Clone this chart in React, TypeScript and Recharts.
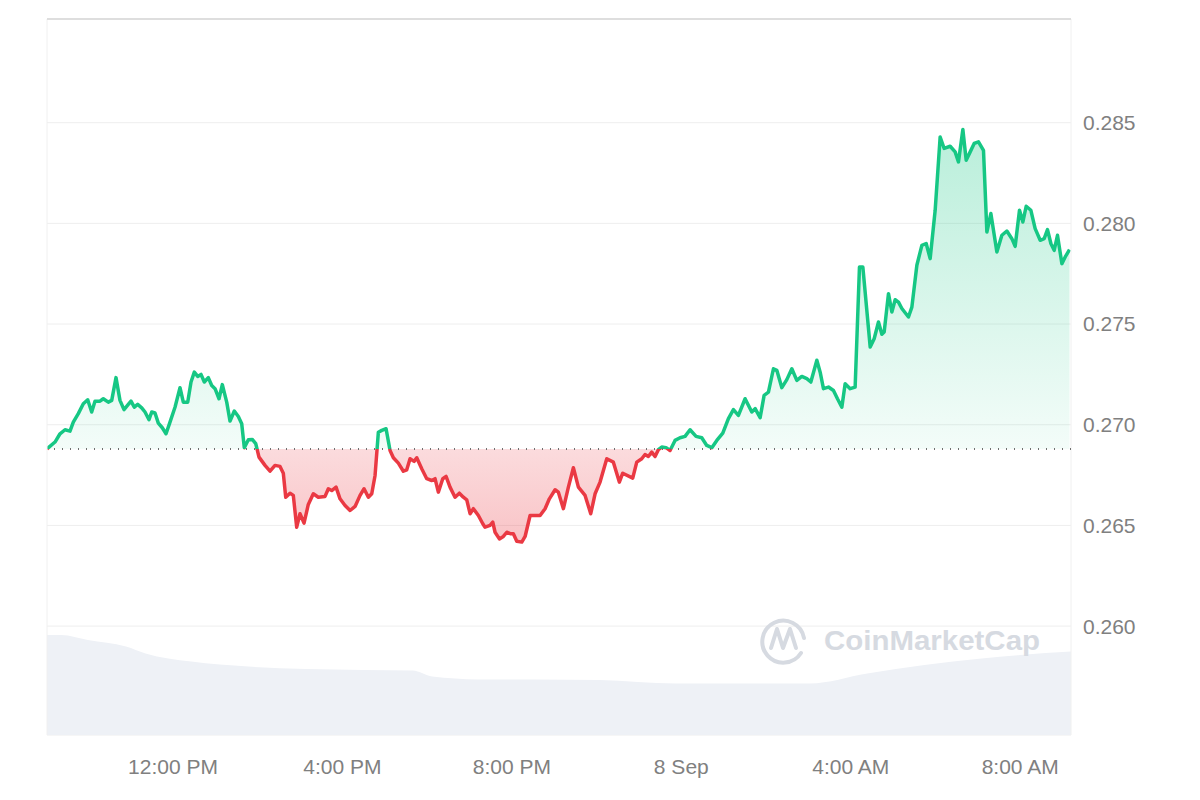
import React from 'react';
import { ComposedChart, Area, XAxis, YAxis, CartesianGrid, ReferenceLine } from 'recharts';

// [hour since 7 Sep 00:00, price USD]
const priceSeries: [number, number][] = [
  [9.025, 0.2688], [9.214, 0.26914], [9.332, 0.26955], [9.45, 0.26975], [9.568, 0.26968], [9.646, 0.27013],
  [9.764, 0.27055], [9.882, 0.27104], [9.986, 0.27124], [10.08, 0.27063], [10.158, 0.27117], [10.276, 0.27117],
  [10.354, 0.27129], [10.472, 0.27112], [10.553, 0.27121], [10.654, 0.27234], [10.748, 0.27121], [10.843, 0.27075],
  [10.944, 0.27101], [11.008, 0.27117], [11.086, 0.27087], [11.166, 0.27101], [11.261, 0.27084], [11.339, 0.27063],
  [11.433, 0.27025], [11.497, 0.27063], [11.575, 0.27058], [11.653, 0.27008], [11.747, 0.26985], [11.835, 0.26955],
  [11.929, 0.27013], [12.047, 0.27087], [12.165, 0.27184], [12.243, 0.27112], [12.347, 0.27112], [12.425, 0.27212],
  [12.503, 0.27261], [12.583, 0.2724], [12.661, 0.2725], [12.739, 0.27212], [12.833, 0.27234], [12.914, 0.27195],
  [12.992, 0.27179], [13.086, 0.27129], [13.164, 0.27199], [13.268, 0.27112], [13.346, 0.27018], [13.447, 0.27068],
  [13.542, 0.27041], [13.622, 0.27005], [13.683, 0.26886], [13.778, 0.26925], [13.872, 0.26927], [13.953, 0.26906],
  [14.03, 0.26839], [14.172, 0.26798], [14.29, 0.26769], [14.408, 0.26798], [14.526, 0.26793], [14.604, 0.26759],
  [14.661, 0.2664], [14.762, 0.2666], [14.84, 0.26649], [14.92, 0.26491], [14.998, 0.26558], [15.093, 0.26511],
  [15.194, 0.26604], [15.312, 0.26657], [15.43, 0.2664], [15.589, 0.26644], [15.667, 0.26682], [15.747, 0.26673],
  [15.849, 0.2669], [15.943, 0.26632], [16.061, 0.26599], [16.18, 0.26574], [16.298, 0.26594], [16.416, 0.26649],
  [16.51, 0.26682], [16.612, 0.2664], [16.692, 0.26657], [16.77, 0.26748], [16.848, 0.26963], [16.928, 0.26972],
  [17.03, 0.2698], [17.124, 0.26872], [17.202, 0.26836], [17.32, 0.26809], [17.438, 0.26769], [17.518, 0.26776],
  [17.596, 0.26831], [17.691, 0.26818], [17.754, 0.26836], [17.872, 0.26781], [17.99, 0.26732], [18.108, 0.26723],
  [18.186, 0.26732], [18.264, 0.26665], [18.368, 0.26732], [18.446, 0.26743], [18.54, 0.2669], [18.658, 0.2664],
  [18.76, 0.2666], [18.854, 0.2664], [18.935, 0.26627], [19.013, 0.26558], [19.091, 0.26583], [19.209, 0.26549],
  [19.313, 0.26508], [19.367, 0.26491], [19.485, 0.265], [19.549, 0.26516], [19.603, 0.26466], [19.705, 0.26433],
  [19.799, 0.26445], [19.88, 0.26466], [19.974, 0.26458], [20.035, 0.26458], [20.116, 0.26421], [20.234, 0.26417],
  [20.312, 0.26445], [20.43, 0.26549], [20.548, 0.26549], [20.666, 0.26549], [20.784, 0.26583], [20.885, 0.26632],
  [21.02, 0.26677], [21.098, 0.26665], [21.216, 0.26583], [21.334, 0.2669], [21.452, 0.26786], [21.57, 0.2669],
  [21.728, 0.26649], [21.862, 0.26558], [21.964, 0.26657], [22.082, 0.26715], [22.24, 0.26831], [22.396, 0.26814],
  [22.537, 0.26715], [22.617, 0.26759], [22.853, 0.26735], [22.948, 0.26814], [23.066, 0.26831], [23.144, 0.26852],
  [23.222, 0.26842], [23.302, 0.26864], [23.38, 0.26842], [23.458, 0.26876], [23.538, 0.26889], [23.64, 0.26886],
  [23.734, 0.26872], [23.852, 0.26922], [23.97, 0.26935], [24.088, 0.26942], [24.206, 0.26975], [24.348, 0.26942],
  [24.483, 0.26935], [24.601, 0.26897], [24.72, 0.26886], [24.838, 0.26922], [24.979, 0.26958], [25.112, 0.2703],
  [25.23, 0.27075], [25.348, 0.27046], [25.506, 0.27129], [25.664, 0.27063], [25.743, 0.2708], [25.861, 0.27035],
  [25.955, 0.27146], [26.057, 0.27162], [26.175, 0.27278], [26.255, 0.2727], [26.373, 0.27184], [26.491, 0.27224],
  [26.609, 0.27278], [26.727, 0.2722], [26.845, 0.2724], [26.963, 0.27229], [27.058, 0.27212], [27.2, 0.2732],
  [27.278, 0.27261], [27.356, 0.27179], [27.474, 0.27187], [27.592, 0.2717], [27.687, 0.27129], [27.79, 0.27087],
  [27.868, 0.27204], [27.986, 0.27179], [28.104, 0.27187], [28.206, 0.27783], [28.286, 0.27783], [28.459, 0.27386],
  [28.553, 0.27427], [28.655, 0.2751], [28.735, 0.27449], [28.789, 0.2746], [28.891, 0.27651], [28.971, 0.2756],
  [29.049, 0.27621], [29.127, 0.27609], [29.207, 0.27577], [29.363, 0.27535], [29.443, 0.27584], [29.561, 0.27792],
  [29.679, 0.27891], [29.781, 0.279], [29.875, 0.27825], [29.993, 0.28065], [30.111, 0.28429], [30.206, 0.28372],
  [30.347, 0.28383], [30.465, 0.28355], [30.543, 0.28305], [30.647, 0.28466], [30.725, 0.28314], [30.82, 0.28355],
  [30.914, 0.28397], [31.016, 0.28405], [31.134, 0.28363], [31.214, 0.27957], [31.308, 0.28049], [31.45, 0.27858],
  [31.568, 0.27941], [31.686, 0.27962], [31.804, 0.27924], [31.882, 0.27886], [31.984, 0.28065], [32.064, 0.28007],
  [32.142, 0.28085], [32.253, 0.28065], [32.354, 0.27974], [32.473, 0.27916], [32.567, 0.27924], [32.645, 0.27969],
  [32.725, 0.279], [32.803, 0.27866], [32.881, 0.27941], [32.985, 0.278], [33.063, 0.27833], [33.165, 0.2787],
];

// [hour, volume (M USD)]
const volumeSeries: [number, number][] = [
  [9.025, 50], [9.36, 50], [9.99, 47.5], [10.89, 44.2], [11.35, 40.8], [12.43, 36.7], [13.78, 34.2],
  [15.14, 33], [16.49, 32.5], [17.66, 32.2], [18.12, 29.2], [19.2, 27.8], [20.55, 27.8], [22.07, 27.5],
  [23.87, 25.8], [27.03, 25.8], [28.39, 30.8], [29.74, 35], [31.09, 38.3], [32.0, 40], [33.2, 41.7],
];

const openPrice = 0.2688;
const xTicks = [12, 16, 20, 24, 28, 32];
const xTickLabels = ['12:00 PM', '4:00 PM', '8:00 PM', '8 Sep', '4:00 AM', '8:00 AM'];
const yTicks = [0.26, 0.265, 0.27, 0.275, 0.28, 0.285];
const xDomain: [number, number] = [9.025, 33.2];
const yDomain: [number, number] = [0.25459, 0.29015];

const FONT = '"Liberation Sans", Arial, Helvetica, sans-serif';
const GREEN = '#16c784';
const RED = '#ea3943';
const W = 1184;
const H = 780;

export default function App() {
  const priceData = priceSeries.map(([t, p]) => ({ t, p }));
  const volumeData = volumeSeries.map(([t, v]) => ({ t, v }));
  const pMax = Math.max(...priceData.map((d) => d.p));
  const pMin = Math.min(...priceData.map((d) => d.p));
  const off = (pMax - openPrice) / (pMax - pMin);
  const tickStyle = { fill: '#808080', fontSize: 21, fontFamily: FONT };

  return (
    <div style={{ position: 'relative', width: W, height: H, fontFamily: FONT }}>
      <ComposedChart width={W} height={H} margin={{ top: 11, right: 0, bottom: 0, left: 39 }}>
        <defs>
          <linearGradient id="splitStroke" x1="0" y1="0" x2="0" y2="1">
            <stop offset={off} stopColor={GREEN} />
            <stop offset={off} stopColor={RED} />
          </linearGradient>
          <linearGradient id="splitFill" x1="0" y1="0" x2="0" y2="1">
            <stop offset={0} stopColor={GREEN} stopOpacity={0.3} />
            <stop offset={off} stopColor={GREEN} stopOpacity={0.05} />
            <stop offset={off} stopColor={RED} stopOpacity={0.18} />
            <stop offset={1} stopColor={RED} stopOpacity={0.3} />
          </linearGradient>
        </defs>
        <CartesianGrid horizontal vertical={false} stroke="#eeeeee" />
        <XAxis
          type="number"
          dataKey="t"
          domain={xDomain}
          allowDataOverflow
          ticks={xTicks}
          interval={0}
          tickFormatter={(v: number) => xTickLabels[xTicks.indexOf(v)] ?? ''}
          axisLine={false}
          tickLine={false}
          tickSize={0}
          tickMargin={24}
          height={53}
          tick={tickStyle}
        />
        <YAxis
          orientation="right"
          type="number"
          domain={yDomain}
          allowDataOverflow
          ticks={yTicks}
          interval={0}
          tickFormatter={(v: number) => v.toFixed(3)}
          axisLine={false}
          tickLine={false}
          tickSize={0}
          tickMargin={12}
          width={121}
          tick={tickStyle}
        />
        <YAxis yAxisId="vol" hide domain={[0, 358]} allowDataOverflow />
        <ReferenceLine x={xDomain[0]} stroke="#f0f0f0" strokeWidth={1} />
        <ReferenceLine x={xDomain[1]} stroke="#f0f0f0" strokeWidth={1} />
        <ReferenceLine y={yDomain[1]} stroke="#dedede" strokeWidth={2} />
        <Area
          yAxisId="vol"
          data={volumeData}
          dataKey="v"
          type="monotone"
          stroke="none"
          fill="#eef1f6"
          fillOpacity={1}
          isAnimationActive={false}
          dot={false}
          activeDot={false}
        />
        <Area
          data={priceData}
          dataKey="p"
          type="linear"
          baseValue={openPrice}
          stroke="url(#splitStroke)"
          strokeWidth={3.5}
          strokeLinejoin="round"
          fill="url(#splitFill)"
          fillOpacity={1}
          isAnimationActive={false}
          dot={false}
          activeDot={false}
        />
        <ReferenceLine y={openPrice} stroke="#707070" strokeWidth={2} strokeDasharray="1 7" />
      </ComposedChart>
      <svg
        width={W}
        height={H}
        style={{ position: 'absolute', left: 0, top: 0, pointerEvents: 'none' }}
      >
        <g stroke="#d6dae1" strokeWidth={4} fill="none" strokeLinecap="round" strokeLinejoin="round">
          <path d="M 793 645 A 21 21 0 1 1 796 630" />
          <path d="M 763 640 L 769 621 L 775 640 L 782 621 L 788 640" />
        </g>
        <text
          x={816}
          y={642}
          fontSize={27}
          fontWeight={600}
          fill="#d6dae1"
          textLength={216}
          lengthAdjust="spacingAndGlyphs"
          fontFamily={FONT}
        >
          CoinMarketCap
        </text>
      </svg>
    </div>
  );
}
